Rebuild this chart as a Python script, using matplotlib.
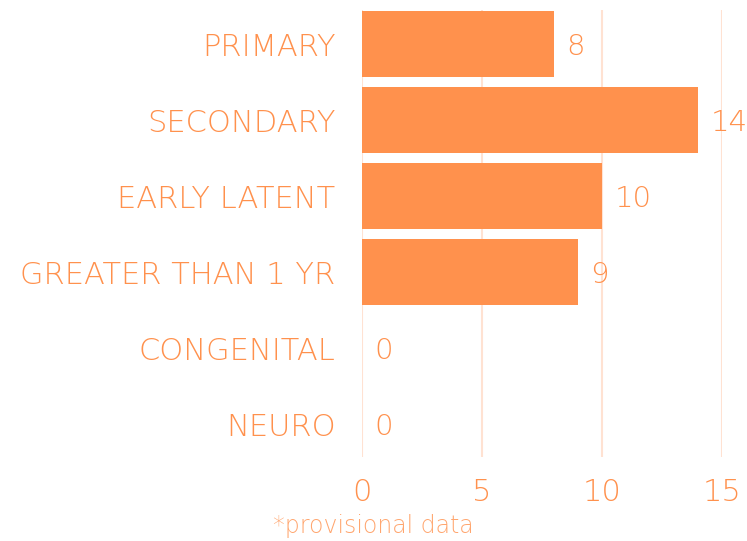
import matplotlib
matplotlib.use('Agg')
import matplotlib.pyplot as plt
import numpy

ORANGE = '#FF914D'
GRID = '#FFE2D2'

categories = ['PRIMARY', 'SECONDARY', 'EARLY LATENT', 'GREATER THAN 1 YR',
              'CONGENITAL', 'NEURO']
cases = [8, 14, 10, 9, 0, 0]
x_ticks = [0, 5, 10, 15]

plt.rcParams['font.family'] = ['DejaVu Sans']
W = 'light'

fig = plt.figure(figsize=(7.47, 5.41), dpi=100)
ax = fig.add_axes([362 / 747, 84 / 541, 360 / 747, 447 / 541])

pos = numpy.arange(len(categories))
ax.barh(pos, cases, height=0.87, color=ORANGE, zorder=2)

for y, v in zip(pos, cases):
    ax.annotate(str(v), (v, y), xytext=(9, -2), textcoords='offset points',
                ha='left', va='center', color=ORANGE, fontsize=21,
                fontweight=W, annotation_clip=False)

ax.set_xlim(0, 15)
ax.set_ylim(5.43, -0.45)
ax.set_xticks(x_ticks)
ax.set_yticks(pos)
ax.set_yticklabels(categories)
ax.tick_params(axis='both', length=0, colors=ORANGE, labelsize=22)
ax.tick_params(axis='y', pad=19)
ax.tick_params(axis='x', pad=15)
for lbl in ax.get_xticklabels() + ax.get_yticklabels():
    lbl.set_fontweight(W)

ax.grid(axis='x', color=GRID, linewidth=1.5, zorder=0)
for s in ax.spines.values():
    s.set_visible(False)

fig.text(373 / 747, 15 / 541, '*provisional data', ha='center', va='center',
         color='#FFA66F', fontsize=17, fontweight=W)

fig.savefig('out.png', dpi=100)
